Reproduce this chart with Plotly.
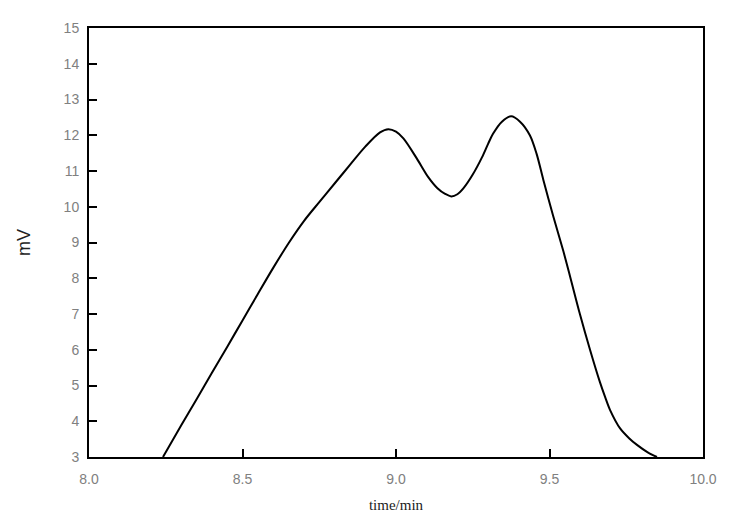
import plotly.graph_objects as go

# chromatogram trace
time_min = [8.241, 8.3, 8.35, 8.4, 8.45, 8.5, 8.55, 8.6, 8.65, 8.7,
            8.75, 8.8, 8.85, 8.9, 8.948, 8.975, 9.0, 9.024, 9.067, 9.105,
            9.135, 9.16, 9.18, 9.2, 9.22, 9.25, 9.28, 9.3, 9.316, 9.345,
            9.375, 9.404, 9.436, 9.458, 9.48, 9.512, 9.545, 9.567, 9.599, 9.632,
            9.664, 9.681, 9.697, 9.73, 9.76, 9.785, 9.82, 9.85]
signal_mv = [3.0, 3.88, 4.61, 5.35, 6.08, 6.82, 7.56, 8.29, 8.98, 9.6,
             10.13, 10.65, 11.17, 11.68, 12.08, 12.17, 12.1, 11.91, 11.36, 10.83,
             10.52, 10.36, 10.29, 10.35, 10.52, 10.9, 11.38, 11.76, 12.04, 12.38,
             12.53, 12.38, 12.0, 11.48, 10.75, 9.74, 8.76, 8.05, 7.0, 6.0,
             5.1, 4.68, 4.32, 3.8, 3.52, 3.34, 3.13, 3.0]

x_ticks = [8.0, 8.5, 9.0, 9.5, 10.0]
x_labels = ["8.0", "8.5", "9.0", "9.5", "10.0"]
y_ticks = list(range(3, 16))

fig = go.Figure()
fig.add_trace(go.Scatter(
    x=time_min, y=signal_mv, mode="lines",
    line=dict(color="black", width=2, shape="spline", smoothing=0.9),
    showlegend=False, hoverinfo="skip",
))

axis_common = dict(
    showgrid=False, zeroline=False, showline=True, linecolor="black",
    linewidth=2, mirror=True, ticks="inside", ticklen=8, tickwidth=2,
    tickcolor="black", tickfont=dict(family="Liberation Sans, Arial", size=14, color="#808080"),
)

fig.update_xaxes(range=[8.0, 10.0], tickvals=x_ticks, ticktext=x_labels, ticklabelstandoff=8,
                 title=dict(text="time/min", font=dict(family="Liberation Serif, Times New Roman",
                                                        size=15, color="#222"), standoff=14),
                 **axis_common)
fig.update_yaxes(range=[3, 15], tickvals=y_ticks, ticklabelstandoff=5,
                 title=dict(text="mV", font=dict(family="Liberation Sans, Arial", size=18, color="#222"),
                            standoff=28),
                 **axis_common)

# page body adds an 8px offset, so margins are shifted to keep the plot box in place
fig.update_layout(
    width=730, height=519,
    margin=dict(l=81, r=35, t=12, b=70),
    paper_bgcolor="white", plot_bgcolor="white",
)

fig.write_html("out.html")
